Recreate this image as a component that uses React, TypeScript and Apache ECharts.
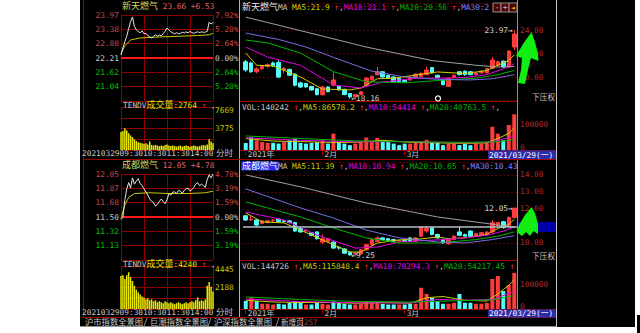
import React, { useEffect, useRef } from 'react';
import * as echarts from 'echarts';

const FONT = '"DejaVu Sans Mono", "Noto Sans CJK SC", monospace';
const FS = 7.8;
const UP = '#ff3c3c';
const DOWN = '#54fcfc';
const GRID_RED = '#8c0000';
const AXIS_RED = '#b02828';
const GRAY = '#c4c4c4';
const C_MA5 = '#d0d000';
const C_MA10 = '#e000e0';
const C_MA20 = '#00b400';
const C_MA30 = '#7070e0';
const C_MA60 = '#a0a0a0';

// ---------- K-line dates ----------
const kDates = [
  '2021-01-12', '2021-01-13', '2021-01-14', '2021-01-15', '2021-01-18', '2021-01-19', '2021-01-20', '2021-01-21', '2021-01-22', '2021-01-25', '2021-01-26', '2021-01-27', '2021-01-28', '2021-01-29',
  '2021-02-01', '2021-02-02', '2021-02-03', '2021-02-04', '2021-02-05', '2021-02-08', '2021-02-09', '2021-02-10', '2021-02-18', '2021-02-19', '2021-02-22', '2021-02-23', '2021-02-24', '2021-02-25', '2021-02-26',
  '2021-03-01', '2021-03-02', '2021-03-03', '2021-03-04', '2021-03-05', '2021-03-08', '2021-03-09', '2021-03-10', '2021-03-11', '2021-03-12', '2021-03-15', '2021-03-16', '2021-03-17', '2021-03-18', '2021-03-19', '2021-03-22', '2021-03-23', '2021-03-24', '2021-03-25', '2021-03-26', '2021-03-29',
];

// ---------- 新天燃气 daily ----------
const topOpen = [21.3, 21.2, 20.45, 20.7, 20.9, 21.2, 21.25, 20.6, 20.65, 20.25, 19.5, 19.45, 19.2, 19.0, 18.5, 19.15, 19.3, 19.2, 18.95, 18.6, 18.3, 18.5, 19.3, 19.75, 20.2, 20.45, 20.15, 20.0, 19.9, 19.7, 19.75, 19.95, 20.05, 20.2, 20.8, 20.15, 19.75, 19.2, 19.95, 20.45, 20.5, 20.45, 20.2, 20.35, 20.35, 20.75, 21.0, 21.35, 20.85, 22.55];
const topClose = [20.6, 20.45, 20.7, 20.9, 21.05, 20.95, 20.0, 20.75, 20.15, 19.3, 19.15, 19.15, 18.9, 18.5, 19.15, 18.75, 19.75, 18.9, 18.5, 18.3, 18.5, 18.75, 19.9, 20.05, 20.45, 20.0, 19.9, 19.6, 19.6, 19.6, 20.0, 20.25, 20.3, 20.6, 20.35, 19.95, 19.35, 19.9, 20.15, 20.2, 20.2, 20.2, 20.35, 20.5, 20.7, 21.45, 21.3, 20.85, 22.21, 23.66];
const topLow = [20.45, 20.35, 20.3, 20.6, 20.8, 20.85, 19.9, 20.3, 20.1, 19.2, 19.05, 19.1, 18.85, 18.45, 18.4, 18.7, 19.2, 18.85, 18.45, 18.16, 18.2, 18.45, 19.2, 19.7, 20.1, 19.95, 19.85, 19.55, 19.5, 19.55, 19.7, 19.9, 20.0, 20.15, 20.3, 19.9, 19.3, 19.15, 19.9, 20.15, 20.1, 20.15, 20.15, 20.3, 20.3, 20.7, 20.9, 20.8, 20.8, 22.3];
const topHigh = [21.45, 21.3, 20.8, 21.0, 21.15, 21.3, 21.45, 20.85, 20.7, 20.3, 19.6, 19.5, 19.25, 19.05, 19.25, 19.2, 20.4, 19.3, 19.0, 18.65, 18.55, 18.8, 20.0, 20.15, 20.85, 20.5, 20.2, 20.05, 19.95, 19.8, 20.05, 20.3, 20.4, 20.9, 20.85, 20.2, 19.8, 19.95, 20.2, 20.5, 20.55, 20.5, 20.4, 20.55, 20.75, 21.7, 21.4, 21.4, 22.3, 23.97];
const topVol = [27700, 49000, 38000, 31000, 28000, 28000, 25000, 31000, 38000, 44000, 28000, 25000, 28000, 31000, 38000, 25000, 64000, 31000, 25000, 19000, 25000, 31000, 49000, 31000, 47000, 38000, 31000, 25000, 19000, 25000, 25000, 31000, 31000, 40000, 31000, 31000, 19000, 25000, 25000, 19000, 25000, 19000, 25000, 25000, 31000, 91000, 64000, 38000, 98000, 140242];
const topMa5 = [[0, 22.04], [2, 21.0], [5, 20.94], [10, 20.0], [14, 18.98], [19, 18.9], [21, 19.06], [24, 19.85], [27, 19.9], [31, 20.17], [35, 20.43], [40, 20.3], [44, 20.55], [46, 21.0], [48, 21.4], [49, 21.89]];
const topMa10 = [[0, 22.55], [4, 21.7], [10, 21.0], [16, 19.32], [21, 19.06], [25, 19.57], [31, 19.9], [35, 19.9], [40, 19.95], [44, 20.2], [47, 20.7], [49, 21.12]];
const topMa20 = [[0, 23.15], [4, 22.9], [10, 22.04], [16, 20.45], [22, 19.6], [29, 19.5], [35, 19.7], [42, 19.9], [46, 20.2], [49, 20.56]];
const topMa30 = [[0, 23.74], [6, 23.2], [11, 22.55], [17, 21.5], [23, 20.5], [29, 20.0], [35, 19.8], [41, 19.75], [45, 19.85], [49, 20.2]];
const topMa60 = [[0, 25.1], [11, 23.83], [22, 22.55], [34, 21.4], [42, 21.0], [46, 20.85], [49, 20.9]];
const topVolMa5 = [[0, 45000], [5, 35000], [10, 33000], [15, 30000], [20, 30000], [25, 38000], [30, 30000], [35, 28000], [40, 26000], [44, 28000], [46, 45000], [48, 65000], [49, 86578]];
const topVolMa10 = [[0, 48000], [10, 38000], [20, 32000], [30, 33000], [40, 28000], [45, 32000], [49, 54414]];
const topVolMa20 = [[0, 55000], [10, 45000], [20, 36000], [30, 32000], [40, 30000], [46, 32000], [49, 40763]];
const topKTicks = [20, 22, 24];

// ---------- 成都燃气 daily ----------
const botOpen = [11.6, 11.35, 11.35, 11.15, 11.2, 11.3, 11.4, 11.3, 11.3, 11.2, 10.85, 10.7, 10.6, 10.65, 10.05, 10.1, 10.05, 9.75, 9.65, 9.45, 9.35, 9.35, 9.6, 9.9, 10.1, 10.3, 10.25, 10.2, 10.1, 10.15, 10.3, 10.1, 10.4, 10.7, 10.9, 10.5, 10.2, 9.95, 10.2, 10.65, 10.5, 10.7, 10.4, 10.5, 10.5, 10.65, 11.0, 11.25, 11.0, 11.5];
const botClose = [11.35, 11.4, 11.05, 11.3, 11.3, 11.35, 11.25, 11.25, 11.2, 10.7, 10.65, 10.75, 10.45, 10.25, 10.25, 10.25, 9.7, 9.7, 9.4, 9.3, 9.4, 9.6, 9.9, 10.2, 10.3, 10.2, 10.15, 10.1, 10.15, 10.1, 10.1, 10.3, 10.95, 10.85, 10.5, 10.3, 10.0, 10.2, 10.4, 10.45, 10.4, 10.4, 10.55, 10.6, 10.65, 11.2, 11.2, 10.9, 11.5, 12.05];
const botLow = [11.3, 11.3, 11.0, 11.1, 11.15, 11.2, 11.2, 11.2, 11.15, 10.65, 10.6, 10.6, 10.4, 10.2, 9.95, 10.05, 9.65, 9.6, 9.35, 9.25, 9.3, 9.3, 9.55, 9.85, 10.05, 10.15, 10.1, 10.05, 10.05, 10.05, 10.05, 10.05, 10.35, 10.6, 10.45, 10.25, 9.95, 9.9, 10.15, 10.4, 10.35, 10.35, 10.35, 10.45, 10.45, 10.6, 10.95, 10.85, 10.95, 11.45];
const botHigh = [11.65, 11.6, 11.4, 11.35, 11.35, 11.4, 11.45, 11.35, 11.35, 11.25, 10.9, 10.8, 10.65, 10.7, 10.5, 10.3, 10.1, 9.8, 9.7, 9.5, 9.45, 9.65, 9.95, 10.25, 10.4, 10.35, 10.3, 10.25, 10.2, 10.2, 10.35, 10.35, 11.0, 11.0, 10.95, 10.55, 10.25, 10.25, 10.45, 11.0, 10.55, 10.75, 10.6, 10.65, 10.7, 11.35, 11.25, 11.3, 11.55, 12.05];
const botVol = [32000, 45000, 32000, 21000, 21000, 18000, 21000, 18000, 25000, 32000, 25000, 18000, 18000, 25000, 21000, 18000, 30000, 25000, 21000, 18000, 18000, 21000, 30000, 25000, 30000, 21000, 18000, 18000, 18000, 18000, 21000, 21000, 85000, 60000, 45000, 32000, 21000, 21000, 25000, 60000, 25000, 25000, 21000, 21000, 25000, 120000, 132000, 72000, 96000, 144726];
const botMa5 = [[0, 11.76], [3, 11.24], [7, 11.18], [10, 10.76], [14, 10.18], [19, 9.47], [21, 9.47], [24, 10.0], [28, 10.18], [32, 10.24], [35, 10.35], [37, 10.25], [40, 10.3], [44, 10.5], [46, 10.85], [48, 11.1], [49, 11.39]];
const botMa10 = [[0, 11.82], [7, 11.35], [13, 10.47], [20, 9.7], [24, 9.76], [28, 10.06], [35, 10.18], [40, 10.3], [44, 10.45], [47, 10.7], [49, 10.94]];
const botMa20 = [[0, 12.41], [10, 11.53], [16, 10.88], [22, 10.3], [28, 10.0], [35, 10.0], [42, 10.2], [46, 10.4], [49, 10.65]];
const botMa30 = [[0, 13.18], [10, 12.06], [16, 11.47], [22, 10.76], [28, 10.3], [35, 10.06], [40, 10.0], [45, 10.2], [49, 10.43]];
const botMa60 = [[0, 14.0], [10, 13.3], [22, 12.35], [35, 11.53], [46, 11.06], [49, 10.94]];
const botVolMa5 = [[0, 35000], [5, 28000], [10, 26000], [15, 26000], [20, 23000], [25, 26000], [30, 23000], [33, 45000], [36, 50000], [40, 35000], [44, 32000], [46, 60000], [48, 95000], [49, 115848]];
const botVolMa10 = [[0, 40000], [10, 30000], [20, 25000], [30, 24000], [35, 38000], [40, 35000], [45, 38000], [49, 70294]];
const botVolMa20 = [[0, 48000], [10, 38000], [20, 30000], [30, 28000], [40, 34000], [45, 36000], [49, 54217]];
const botKTicks = [10, 11, 12, 13, 14];
const botCrossPrice = 10.94;

// ---------- intraday (5-minute samples) ----------
const topPrev = 22.21;
const topDayHigh = 23.97;
const topLine = [22.33, 22.62, 22.88, 23.1, 23.42, 23.7, 23.89, 23.5, 23.36, 23.3, 23.24, 23.32, 23.2, 23.22, 23.12, 23.08, 23.03, 23.1, 23.16, 23.1, 23.15, 23.12, 23.2, 23.3, 23.44, 23.36, 23.28, 23.24, 23.2, 23.25, 23.2, 23.22, 23.27, 23.23, 23.28, 23.24, 23.3, 23.25, 23.22, 23.26, 23.28, 23.25, 23.28, 23.26, 23.27, 23.3, 23.68, 23.6, 23.66];
const topAvg = [[0, 22.4], [2, 22.7], [5, 22.95], [10, 23.03], [20, 23.07], [30, 23.1], [40, 23.13], [46, 23.16], [48, 23.22]];
const topIVol = [3200, 3400, 3900, 3500, 3000, 2600, 2300, 1900, 1600, 1400, 1300, 1200, 1100, 1200, 1000, 1500, 900, 800, 900, 800, 700, 800, 700, 900, 1000, 800, 700, 800, 700, 600, 700, 800, 600, 700, 800, 700, 600, 700, 800, 700, 600, 700, 800, 900, 800, 1000, 1900, 1500, 1200];
const topIVolLabels = ['7669', '3775'];

const botPrev = 11.5;
const botDayHigh = 12.05;
const botLine = [11.47, 11.5, 11.72, 11.86, 11.94, 11.87, 12.0, 11.92, 11.96, 11.99, 11.93, 11.9, 11.86, 11.82, 11.78, 11.73, 11.7, 11.68, 11.64, 11.66, 11.7, 11.73, 11.7, 11.67, 11.72, 11.8, 11.78, 11.82, 11.82, 11.8, 11.84, 11.83, 11.8, 11.84, 11.86, 11.87, 11.83, 11.85, 11.88, 11.92, 11.94, 11.9, 11.92, 11.9, 11.88, 11.98, 12.04, 12.0, 12.05];
const botAvg = [[0, 11.48], [2, 11.65], [4, 11.75], [7, 11.8], [15, 11.81], [25, 11.8], [35, 11.8], [44, 11.81], [48, 11.83]];
const botIVol = [3400, 3500, 3100, 3500, 3800, 3300, 2900, 2400, 2000, 1700, 1500, 1300, 1200, 1000, 1100, 900, 1000, 800, 900, 700, 800, 700, 600, 800, 700, 600, 700, 600, 500, 600, 700, 600, 500, 600, 700, 600, 700, 800, 700, 900, 1200, 800, 900, 800, 1000, 2400, 2800, 2300, 1800];
const botIVolLabels = ['4445', '2188'];

// ---------- helpers ----------
function textWidth(t: string, size: number) {
  let w = 0;
  for (const ch of t) w += ch.charCodeAt(0) >= 0x2e80 ? size : size * 0.602;
  return w;
}
function row(x0: number, y: number, segs: any[]) {
  const out: any[] = [];
  let x = x0;
  for (const seg of segs) {
    const t: string = seg[0];
    const c: string = seg[1];
    const size: number = seg[2] ?? FS;
    out.push({ type: 'text', x, y, z: 100, style: { text: t, fill: c, fontSize: size, fontFamily: FONT, verticalAlign: 'middle', align: 'left' } });
    x += textWidth(t, size);
  }
  return out;
}
function txt(x: number, y: number, t: string, c: string, size = FS, align = 'left') {
  return { type: 'text', x, y, z: 100, style: { text: t, fill: c, fontSize: size, fontFamily: FONT, verticalAlign: 'middle', align } };
}
function hline(x1: number, x2: number, y: number, c: string, w = 1) {
  return { type: 'line', z: 50, shape: { x1, y1: y, x2, y2: y }, style: { stroke: c, lineWidth: w } };
}
function vline(x: number, y1: number, y2: number, c: string, w = 1) {
  return { type: 'line', z: 50, shape: { x1: x, y1, x2: x, y2 }, style: { stroke: c, lineWidth: w } };
}
function rect(x: number, y: number, w: number, h: number, fill: string, stroke?: string, z = 90) {
  return { type: 'rect', z, shape: { x, y, width: w, height: h }, style: { fill, stroke: stroke ?? 'none', lineWidth: 1 } };
}

const RICH: any = {
  r: { color: '#c84848', fontSize: FS, fontFamily: FONT },
  w: { color: GRAY, fontSize: FS, fontFamily: FONT },
  g: { color: '#00c000', fontSize: FS, fontFamily: FONT },
  y: { color: '#c8c800', fontSize: FS, fontFamily: FONT },
  yt: { color: '#c8c800', fontSize: FS, fontFamily: FONT, padding: [6, 0, 0, 0] },
  kz: { color: AXIS_RED, fontSize: FS, fontFamily: FONT, padding: [0, 0, 6, 0] },
  k: { color: AXIS_RED, fontSize: FS, fontFamily: FONT },
};

const MIN_X = { type: 'value', min: 0, max: 240, interval: 60, axisLine: { show: false }, axisTick: { show: false }, axisLabel: { show: false }, splitLine: { show: true, lineStyle: { color: GRID_RED, width: 1 } } };

function intradayAxes(grid: number, prev: number, high: number, volMax: number, volLabels: string[]) {
  const low = prev - (high - prev);
  const pct = ((high - prev) / prev) * 100;
  const pctR = Math.round(pct * 100) / 100;
  const xs = [
    { ...MIN_X, gridIndex: grid },
    { ...MIN_X, gridIndex: grid + 1 },
  ];
  const ys = [
    {
      type: 'value', gridIndex: grid, position: 'left', min: low, max: high, interval: (high - low) / 6,
      axisLine: { show: false }, axisTick: { show: false },
      axisLabel: { margin: 2, showMinLabel: false, formatter: (v: number) => `{${v > prev + 1e-6 ? 'r' : v < prev - 1e-6 ? 'g' : 'w'}|${v.toFixed(2)}}`, rich: RICH },
      splitLine: { show: true, lineStyle: { color: GRID_RED } },
    },
    {
      type: 'value', gridIndex: grid, position: 'right', min: -pctR, max: pctR, interval: pctR / 3,
      axisLine: { show: false }, axisTick: { show: false },
      axisLabel: { margin: 2, showMinLabel: false, formatter: (v: number) => `{${v > 1e-6 ? 'r' : v < -1e-6 ? 'g' : 'w'}|${Math.abs(v).toFixed(2)}%}`, rich: RICH },
      splitLine: { show: false },
    },
    {
      type: 'value', gridIndex: grid + 1, position: 'right', min: 0, max: volMax, interval: volMax / 4,
      axisLine: { show: false }, axisTick: { show: false },
      axisLabel: { margin: 2, formatter: (v: number) => (Math.abs(v - volMax) < 1 ? `{yt|${volLabels[0]}}` : Math.abs(v - volMax / 2) < 1 ? `{y|${volLabels[1]}}` : ''), rich: RICH },
      splitLine: { show: true, lineStyle: { color: GRID_RED } },
    },
  ];
  return { xs, ys };
}

function intradaySeries(xBase: number, yBase: number, line: number[], avg: number[][], vol: number[], prev: number) {
  return [
    {
      type: 'line', xAxisIndex: xBase, yAxisIndex: yBase, data: line.map((v, i) => [i * 5, v]), symbol: 'none',
      lineStyle: { color: '#e6e6e6', width: 1 }, z: 5,
      markLine: { silent: true, symbol: ['none', 'none'], label: { show: false }, lineStyle: { color: '#ff1a1a', width: 2, type: 'solid' }, data: [{ yAxis: prev }] },
    },
    { type: 'line', xAxisIndex: xBase, yAxisIndex: yBase, data: avg.map(([i, v]) => [i * 5, v]), symbol: 'none', lineStyle: { color: '#c8c800', width: 1 }, z: 4 },
    { type: 'bar', xAxisIndex: xBase + 1, yAxisIndex: yBase + 2, data: vol.map((v, i) => [i * 5, v]), barWidth: 1.5, itemStyle: { color: '#e8e800' } },
  ];
}

function monthLabel(i: number) {
  if (i === 0) return kDates[0].slice(0, 4) + '年';
  const m = kDates[i].slice(5, 7);
  if (m !== kDates[i - 1].slice(5, 7)) return parseInt(m, 10) + '月';
  return '';
}
const isLabelIdx = (i: number) => monthLabel(i) !== '';

function kAxes(gridK: number, min: number, max: number, ticks: number[], volMax: number) {
  const hiddenCat = { type: 'category', data: kDates, boundaryGap: true, axisLine: { show: false }, axisTick: { show: false }, axisLabel: { show: false }, splitLine: { show: false } };
  const xs = [
    { ...hiddenCat, gridIndex: gridK },
    {
      ...hiddenCat, gridIndex: gridK + 1,
      axisTick: { show: true, alignWithLabel: true, interval: (i: number) => isLabelIdx(i), length: 5, lineStyle: { color: '#b00000' } },
      axisLabel: { show: true, interval: (i: number) => isLabelIdx(i), formatter: (_v: string, i: number) => monthLabel(i), color: GRAY, fontSize: FS, fontFamily: FONT, align: 'left', margin: 1, padding: [0, 0, 0, 2] },
    },
  ];
  const ys = [
    {
      type: 'value', gridIndex: gridK, position: 'right', min, max, interval: ticks[1] - ticks[0],
      axisLine: { show: false }, axisTick: { show: false },
      axisLabel: { margin: 3, color: AXIS_RED, fontSize: FS, fontFamily: FONT, formatter: (v: number) => (ticks.some((t) => Math.abs(t - v) < 1e-6) ? v.toFixed(2) : '') },
      splitLine: { show: true, lineStyle: { color: '#5c0000', type: [2, 2] } },
    },
    {
      type: 'value', gridIndex: gridK + 1, position: 'right', min: 0, max: volMax, interval: 100000,
      axisLine: { show: false }, axisTick: { show: false },
      axisLabel: { margin: 3, formatter: (v: number) => (v === 0 ? '{kz|0}' : v === 100000 ? '{k|100000}' : ''), rich: RICH },
      splitLine: { show: false },
    },
  ];
  return { xs, ys };
}

function kSeries(xBase: number, yBase: number, o: number[], c: number[], l: number[], h: number[], vol: number[], mas: number[][][], vmas: number[][][], cross?: number) {
  let hiIdx = 0, loIdx = 0;
  h.forEach((v, i) => { if (v > h[hiIdx]) hiIdx = i; });
  l.forEach((v, i) => { if (v < l[loIdx]) loIdx = i; });
  const labelStyle = { color: '#d0d0d0', fontSize: FS, fontFamily: FONT, distance: 1 };
  const candle: any = {
    type: 'candlestick', xAxisIndex: xBase, yAxisIndex: yBase, barWidth: 4, z: 3,
    data: o.map((v, i) => [v, c[i], l[i], h[i]]),
    itemStyle: { color: UP, color0: DOWN, borderColor: UP, borderColor0: DOWN, borderWidth: 1 },
    markPoint: {
      symbol: 'circle', symbolSize: 1, itemStyle: { color: 'rgba(0,0,0,0)' }, silent: true,
      data: [
        { coord: [hiIdx, h[hiIdx]], label: { ...labelStyle, show: true, position: 'left', formatter: h[hiIdx].toFixed(2) + '→' } },
        { coord: [loIdx, l[loIdx]], label: { ...labelStyle, show: true, position: 'right', formatter: '←' + l[loIdx].toFixed(2) } },
      ],
    },
  };
  if (cross !== undefined) {
    candle.markLine = { silent: true, symbol: ['none', 'none'], label: { show: false }, lineStyle: { color: '#a8c0c8', width: 1.5, type: 'solid' }, data: [{ yAxis: cross }] };
  }
  const maColors = [C_MA5, C_MA10, C_MA20, C_MA30, C_MA60];
  const out: any[] = [candle];
  mas.forEach((m, k) => out.push({ type: 'line', xAxisIndex: xBase, yAxisIndex: yBase, data: m, symbol: 'none', lineStyle: { color: maColors[k], width: 1 }, z: 4 }));
  out.push({
    type: 'bar', xAxisIndex: xBase + 1, yAxisIndex: yBase + 1, barWidth: 4,
    data: vol.map((v, i) => ({ value: v, itemStyle: { color: c[i] >= o[i] ? UP : DOWN } })),
  });
  vmas.forEach((m, k) => out.push({ type: 'line', xAxisIndex: xBase + 1, yAxisIndex: yBase + 1, data: m, symbol: 'none', lineStyle: { color: maColors[k], width: 1 }, z: 4 }));
  return out;
}

function buildOption() {
  const iTop = intradayAxes(0, topPrev, topDayHigh, 7669, topIVolLabels);
  const iBot = intradayAxes(2, botPrev, botDayHigh, 4445, botIVolLabels);
  const kTop = kAxes(4, 18, 26.3, topKTicks, 164700);
  const kBot = kAxes(6, 9, 14.76, botKTicks, 168000);

  const R = '#ff3030';
  const g: any[] = [];
  // white surroundings
  g.push(rect(0, 0, 80, 333, '#ffffff', undefined, 1));
  g.push(rect(635, 0, 5, 333, '#ffffff', undefined, 1));
  g.push(rect(0, 327, 640, 6, '#ffffff', undefined, 1));
  g.push(rect(637, 315, 3, 18, '#000000', undefined, 2));
  // frame lines
  g.push(vline(83.5, 0, 317, '#a00000'));
  g.push(vline(239.5, 0, 317, '#b0b0b0'));
  g.push(vline(517.5, 0, 317, '#b08888'));
  g.push(vline(556.5, 0, 327, '#c8c8c8'));
  g.push(hline(240, 517, 101.5, '#a00000'));
  g.push(hline(240, 556, 150.5, '#a00000'));
  g.push(hline(83, 556, 159.5, '#a00000'));
  g.push(hline(240, 517, 260.5, '#a00000'));
  g.push(hline(240, 556, 309.5, '#a00000'));
  g.push(hline(83, 556, 317.5, '#a00000'));
  g.push(hline(80, 556, 326.5, '#909090'));

  // intraday texts
  const intradayTexts = (dy: number, name: string, quote: string, vol: string) => {
    g.push(...row(122, 6 + dy, [[name, '#d8d860', 9], [quote, '#e86060']]));
    g.push(...row(123, 105 + dy, [['TENDV', GRAY], ['成交量', '#e0e000', 9], [vol, '#e0e000'], [' ↑', R], [' ,', GRAY]]));
    g.push(txt(82, 153 + dy, '2021032909:3010:3011:3014:00', GRAY));
    g.push(txt(216, 153 + dy, '分时', GRAY, 8.5));
  };
  intradayTexts(0, '新天燃气', ' 23.66 +6.53', ':2764');
  intradayTexts(159, '成都燃气', ' 12.05 +4.78', ':4240');

  // K titles
  g.push(...row(242, 7, [['新天燃气', '#e8e8e8', 9], ['MA ', GRAY], ['MA5:21.9', C_MA5], [' ↑', R], [',', GRAY], ['MA10:21.1', C_MA10], [' ↑', R], [',', GRAY], ['MA20:20.56', C_MA20], [' ↑', R], [',', GRAY], ['MA30:2', '#8080ff']]));
  g.push(rect(241, 161.5, 38, 9, '#2a2ae8', undefined, 95));
  g.push(...row(242, 166, [['成都燃气', '#ffffff', 9], ['MA ', GRAY], ['MA5:11.39', C_MA5], [' ↑', R], [',', GRAY], ['MA10:10.94', C_MA10], [' ↑', R], [',', GRAY], ['MA20:10.65', C_MA20], [' ↑', R], [',', GRAY], ['MA30:10.43', '#8080ff']]));
  g.push(...row(242, 107, [['VOL:140242', GRAY], [' ↑', R], [',', GRAY], ['MA5:86578.2', C_MA5], [' ↑', R], [',', GRAY], ['MA10:54414', C_MA10], [' ↑', R], [',', GRAY], ['MA20:40763.5', C_MA20], [' ↑', R], [',', GRAY]]));
  g.push(...row(242, 266, [['VOL:144726', GRAY], [' ↑', R], [',', GRAY], ['MA5:115848.4', C_MA5], [' ↑', R], [',', GRAY], ['MA10:70294.3', C_MA10], [' ↑', R], [',', GRAY], ['MA20:54217.45', C_MA20], [' ↑', R]]));

  // buttons
  g.push(rect(493, 3, 8, 9, '#500000', '#909090', 101));
  g.push(rect(501, 3, 8, 9, '#500000', '#909090', 101));
  g.push(rect(509, 3, 8, 9, '#500000', '#909090', 101));
  g.push({ ...txt(497, 7.5, '-', GRAY, FS, 'center'), z: 102 });
  g.push({ ...txt(505, 7.5, '+', GRAY, FS, 'center'), z: 102 });
  g.push({ ...txt(513, 7.5, '◄', '#e0c000', 6.5, 'center'), z: 102 });

  // 下压权
  g.push(txt(532, 97, '下压权', GRAY, 7.7));
  g.push(txt(532, 256, '下压权', GRAY, 7.7));

  // date boxes
  g.push(rect(488, 150.5, 68, 8.5, '#2c2caa', undefined, 95));
  g.push(txt(489, 155, '2021/03/29(一)', '#ffffff'));
  g.push(rect(488, 309.5, 68, 8, '#2c2caa', undefined, 95));
  g.push(txt(489, 313.5, '2021/03/29(一)', '#ffffff'));

  // crosshair price box
  g.push(rect(518, 222, 38, 10, '#0000a8', undefined, 95));

  // white ring
  g.push({ type: 'circle', z: 100, shape: { cx: 438, cy: 98.5, r: 2.5 }, style: { fill: 'none', stroke: '#ffffff', lineWidth: 1.2 } });

  // tab bar
  g.push(txt(85, 322, '沪市指数全景图', GRAY, 8.3));
  g.push(txt(150, 322, '巨潮指数全景图', GRAY, 8.3));
  g.push(txt(214, 322, '沪深指数全景图', GRAY, 8.3));
  g.push(txt(281, 322, '新增页', GRAY, 7.5));
  g.push(txt(304, 322, '257', '#a04040', 7.5));
  [145.5, 209.5, 277.5].forEach((x) => g.push({ type: 'line', z: 60, shape: { x1: x - 1.5, y1: 326, x2: x + 1.5, y2: 318 }, style: { stroke: '#909090', lineWidth: 1 } }));
  g.push(vline(302.5, 318, 326, '#a04040'));

  // green hand-drawn arrows
  g.push({ type: 'polygon', z: 120, shape: { points: [[531.5, 32], [535, 42], [538, 54], [538.5, 61], [531, 58], [528, 70], [525, 84], [518, 83], [521, 70], [522, 58], [516, 56], [523, 44]] }, style: { fill: '#12ee12' } });
  g.push({ type: 'polygon', z: 120, shape: { points: [[531.5, 207], [535, 213], [538, 224], [538, 234], [533.5, 231], [530, 236], [526, 232], [522, 236], [516.5, 232], [519, 225], [525, 215]] }, style: { fill: '#12ee12' } });

  return {
    animation: false,
    backgroundColor: '#000000',
    grid: [
      { left: 121, top: 15, width: 92, height: 86 },
      { left: 121, top: 107, width: 92, height: 43 },
      { left: 121, top: 174, width: 92, height: 86 },
      { left: 121, top: 266, width: 92, height: 43 },
      { left: 243, top: 3, width: 274, height: 97.5 },
      { left: 243, top: 108, width: 274, height: 42 },
      { left: 243, top: 162, width: 274, height: 98 },
      { left: 243, top: 267, width: 274, height: 42 },
    ],
    xAxis: [...iTop.xs, ...iBot.xs, ...kTop.xs, ...kBot.xs],
    yAxis: [...iTop.ys, ...iBot.ys, ...kTop.ys, ...kBot.ys],
    series: [
      ...intradaySeries(0, 0, topLine, topAvg, topIVol, topPrev),
      ...intradaySeries(2, 3, botLine, botAvg, botIVol, botPrev),
      ...kSeries(4, 6, topOpen, topClose, topLow, topHigh, topVol, [topMa5, topMa10, topMa20, topMa30, topMa60], [topVolMa5, topVolMa10, topVolMa20]),
      ...kSeries(6, 8, botOpen, botClose, botLow, botHigh, botVol, [botMa5, botMa10, botMa20, botMa30, botMa60], [botVolMa5, botVolMa10, botVolMa20], botCrossPrice),
    ],
    graphic: { elements: g },
  };
}

export default function App() {
  const ref = useRef<HTMLDivElement>(null);
  useEffect(() => {
    const chart = echarts.init(ref.current!, undefined, { renderer: 'svg', width: 640, height: 333 });
    chart.setOption(buildOption() as any);
    return () => chart.dispose();
  }, []);
  return <div ref={ref} style={{ position: 'absolute', left: 0, top: 0, width: 640, height: 333 }} />;
}
